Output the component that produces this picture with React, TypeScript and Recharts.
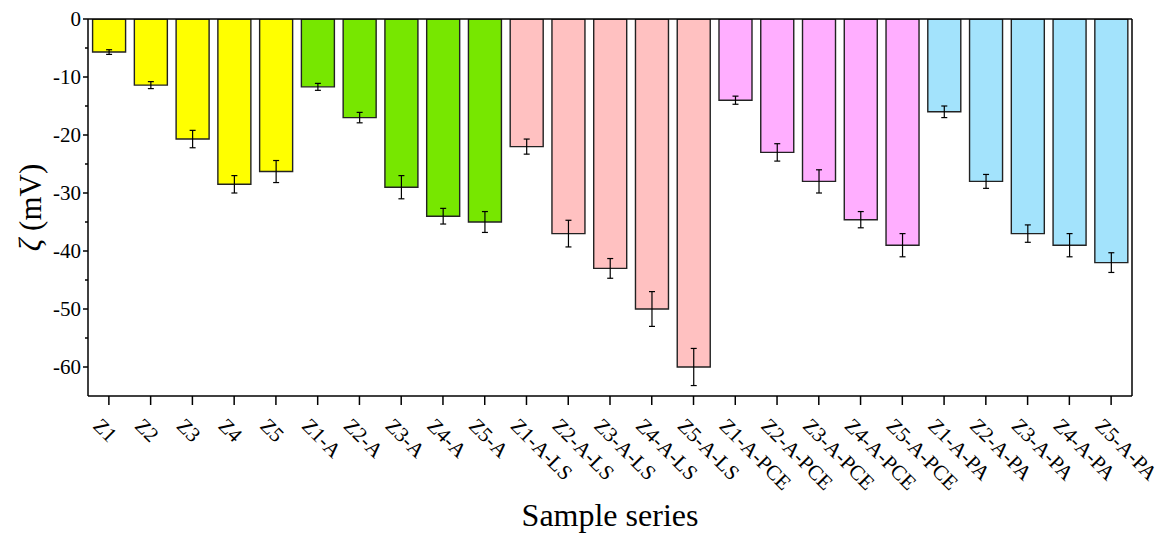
import React from "react";
import {
  Bar,
  BarChart,
  Cell,
  ErrorBar,
  Label,
  XAxis,
  YAxis,
} from "recharts";

const samples = [
  "Z1", "Z2", "Z3", "Z4", "Z5",
  "Z1-A", "Z2-A", "Z3-A", "Z4-A", "Z5-A",
  "Z1-A-LS", "Z2-A-LS", "Z3-A-LS", "Z4-A-LS", "Z5-A-LS",
  "Z1-A-PCE", "Z2-A-PCE", "Z3-A-PCE", "Z4-A-PCE", "Z5-A-PCE",
  "Z1-A-PA", "Z2-A-PA", "Z3-A-PA", "Z4-A-PA", "Z5-A-PA",
];

const zeta = [
  -5.7, -11.4, -20.7, -28.5, -26.3,
  -11.7, -17.0, -29.0, -34.0, -35.0,
  -22.0, -37.0, -43.0, -50.0, -60.0,
  -14.0, -23.0, -28.0, -34.6, -39.0,
  -16.0, -28.0, -37.0, -39.0, -42.0,
];

const errors = [
  0.4, 0.6, 1.5, 1.5, 1.9,
  0.6, 0.9, 2.0, 1.35, 1.8,
  1.3, 2.3, 1.7, 3.0, 3.2,
  0.7, 1.5, 2.0, 1.4, 2.0,
  1.0, 1.2, 1.5, 2.0, 1.7,
];

// one colour per group of five samples
const groupColors = ["#ffff00", "#77e700", "#ffc1c1", "#ffaeff", "#a3e3fc"];

// major ticks every 10 (labelled), minor ticks in between
const yTicks = [0, -5, -10, -15, -20, -25, -30, -35, -40, -45, -50, -55, -60];

const data = samples.map((name, i) => ({
  name,
  zeta: zeta[i],
  err: errors[i],
}));

const FONT = "'Liberation Serif', 'Times New Roman', serif";

function SampleTick({ x, y, payload }: any) {
  return (
    <text
      transform={`translate(${x - 17},${y + 20}) rotate(45)`}
      textAnchor="start"
      style={{ fontFamily: FONT, fontSize: 21 }}
      fill="#000"
    >
      {payload.value}
    </text>
  );
}

// tickSize/tickMargin are 0, so x is the axis line itself
function ZetaTick({ x, y, payload }: any) {
  const major = payload.value % 10 === 0;
  return (
    <g>
      <line
        x1={x - (major ? 5 : 3)}
        x2={x}
        y1={y}
        y2={y}
        stroke="#000"
        strokeWidth={1.5}
      />
      {major && (
        <text
          x={x - 7}
          y={y}
          textAnchor="end"
          dominantBaseline="central"
          style={{ fontFamily: FONT, fontSize: 21 }}
          fill="#000"
        >
          {payload.value}
        </text>
      )}
    </g>
  );
}

function ZetaTitle({ viewBox }: any) {
  const cx = viewBox.x + 22;
  const cy = viewBox.y + viewBox.height / 2;
  return (
    <text
      transform={`translate(${cx},${cy}) rotate(-90)`}
      textAnchor="middle"
      dominantBaseline="central"
      style={{ fontFamily: FONT, fontSize: 31 }}
      fill="#000"
    >
      <tspan fontStyle="italic">ζ</tspan> (mV)
    </text>
  );
}

const axisStroke = { stroke: "#000", strokeWidth: 1.5 };

export default function App() {
  return (
    <div style={{ width: 1164, height: 535 }}>
      <BarChart
        width={1164}
        height={527}
        data={data}
        margin={{ top: 10, right: 39, left: 0, bottom: 0 }}
        barCategoryGap="11%"
      >
        <XAxis
          dataKey="name"
          interval={0}
          height={139}
          tickSize={9}
          tickMargin={2}
          tick={<SampleTick />}
          axisLine={axisStroke}
          tickLine={axisStroke}
        >
          <Label
            value="Sample series"
            position="insideBottom"
            offset={9}
            style={{ fontFamily: FONT, fontSize: 32, fill: "#000" }}
          />
        </XAxis>
        <XAxis
          xAxisId="top"
          dataKey="name"
          orientation="top"
          height={1}
          tick={false}
          tickLine={false}
          axisLine={axisStroke}
        />
        <YAxis
          domain={[-65, 0]}
          allowDataOverflow
          ticks={yTicks}
          interval={0}
          width={80}
          tickSize={0}
          tickMargin={0}
          tickLine={false}
          tick={(props: any) => <ZetaTick {...props} />}
          axisLine={axisStroke}
          label={<ZetaTitle />}
        />
        <YAxis
          yAxisId="right"
          orientation="right"
          domain={[-65, 0]}
          allowDataOverflow
          width={1}
          tick={false}
          tickLine={false}
          axisLine={axisStroke}
        />
        <Bar
          dataKey="zeta"
          stroke="#222"
          strokeWidth={1.4}
          isAnimationActive={false}
        >
          {data.map((d, i) => (
            <Cell key={d.name} fill={groupColors[Math.floor(i / 5)]} />
          ))}
          <ErrorBar
            dataKey="err"
            width={3}
            stroke="#000"
            strokeWidth={1.2}
            direction="y"
          />
        </Bar>
      </BarChart>
    </div>
  );
}
